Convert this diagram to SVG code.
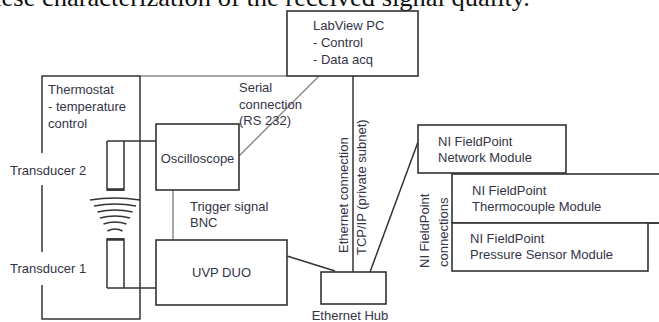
<svg xmlns="http://www.w3.org/2000/svg" width="659" height="322" viewBox="0 0 659 322">
<style>
.box{fill:#fff;stroke:#333;stroke-width:1.6}
.ln{fill:none;stroke:#333;stroke-width:1.5}
.gl{fill:none;stroke:#8a8a8a;stroke-width:1.5}
.t{font-family:"Liberation Sans",Arial,sans-serif;font-size:13px;fill:#343446}
.cap{font-family:"Liberation Serif","Times New Roman",serif;font-size:25px;fill:#111}
</style>
<rect width="659" height="322" fill="#fff"/>
<text class="cap" x="-19" y="5.5" textLength="549" lengthAdjust="spacingAndGlyphs">these characterization of the received signal quality.</text>

<g id="connectors">
  <line class="gl" x1="140" y1="76" x2="287" y2="76"/>
  <line class="gl" x1="319" y1="76" x2="239" y2="156"/>
  <line class="ln" x1="353" y1="76" x2="353" y2="272"/>
  <line class="gl" x1="173" y1="190" x2="173" y2="240"/>
  <line class="ln" x1="287" y1="256" x2="335" y2="271"/>
  <line class="ln" x1="370" y1="272" x2="418" y2="142"/>
  <polyline class="ln" points="156,141 107,141"/>
  <polyline class="ln" points="156,288 107,288"/>
  <text class="t" x="239" y="92">Serial</text>
  <text class="t" x="239" y="108.5">connection</text>
  <text class="t" x="239" y="125">(RS 232)</text>
  <text class="t" x="190" y="210.5">Trigger signal</text>
  <text class="t" x="190" y="227">BNC</text>
  <text class="t" transform="translate(348,253) rotate(-90)">Ethernet connection</text>
  <text class="t" transform="translate(366,255) rotate(-90)">TCP/IP (private subnet)</text>
  <text class="t" transform="translate(429,268) rotate(-90)">NI FieldPoint</text>
  <text class="t" transform="translate(448,267) rotate(-90)">connections</text>
</g>

<g id="thermostat">
  <polyline class="ln" points="42,153 42,76 140,76 140,319 42,319 42,285"/>
  <line class="ln" x1="42" y1="185" x2="42" y2="252"/>
  <text class="t" x="48" y="94">Thermostat</text>
  <text class="t" x="48" y="111">- temperature</text>
  <text class="t" x="48" y="128">control</text>
</g>

<g id="transducer2">
  <polyline class="ln" points="107,141 107,190 124,190 124,141"/>
  <line x1="107" y1="189.5" x2="124" y2="189.5" stroke="#333" stroke-width="2.5"/>
  <text class="t" x="10" y="174.5">Transducer 2</text>
</g>

<g id="waves" class="ln">
  <path class="ln" d="M90,200 Q115,196 140,200"/>
  <path class="ln" d="M94,206 Q115,202 136,206"/>
  <path class="ln" d="M97.5,212 Q115,208 132.5,212"/>
  <path class="ln" d="M100,218 Q115,214 130,218"/>
  <path class="ln" d="M103.5,224 Q115,220 126.5,224"/>
  <path class="ln" d="M107.5,231 Q115,227 122.5,231"/>
</g>

<g id="transducer1">
  <polyline class="ln" points="107,288 107,239 124,239 124,288"/>
  <line x1="107" y1="239.5" x2="124" y2="239.5" stroke="#333" stroke-width="2.5"/>
  <text class="t" x="10" y="272.5">Transducer 1</text>
</g>

<g id="labview">
  <rect class="box" x="287" y="11" width="131" height="65"/>
  <text class="t" x="313" y="29.5">LabView PC</text>
  <text class="t" x="313" y="46.5">- Control</text>
  <text class="t" x="313" y="63.5">- Data acq</text>
</g>

<g id="oscilloscope">
  <rect class="box" x="156" y="124" width="83" height="66"/>
  <text class="t" x="197.5" y="162.5" text-anchor="middle">Oscilloscope</text>
</g>

<g id="uvp">
  <rect class="box" x="156" y="240" width="131" height="65"/>
  <text class="t" x="221.5" y="277" text-anchor="middle">UVP DUO</text>
</g>

<g id="hub">
  <rect class="box" x="321" y="272" width="65" height="32"/>
  <text class="t" x="350" y="320" text-anchor="middle">Ethernet Hub</text>
</g>

<g id="thermocouple">
  <rect class="box" x="452" y="174" width="230" height="49"/>
  <text class="t" x="472" y="194.5">NI FieldPoint</text>
  <text class="t" x="472" y="210.5">Thermocouple Module</text>
</g>

<g id="network">
  <rect class="box" x="418" y="125" width="148" height="48"/>
  <text class="t" x="438" y="145.5">NI FieldPoint</text>
  <text class="t" x="438" y="161.5">Network Module</text>
</g>

<g id="pressure">
  <line class="ln" x1="648" y1="223" x2="660" y2="223"/>
  <rect class="box" x="452" y="223" width="196" height="48"/>
  <text class="t" x="470" y="242.5">NI FieldPoint</text>
  <text class="t" x="470" y="258.5">Pressure Sensor Module</text>
</g>
</svg>
